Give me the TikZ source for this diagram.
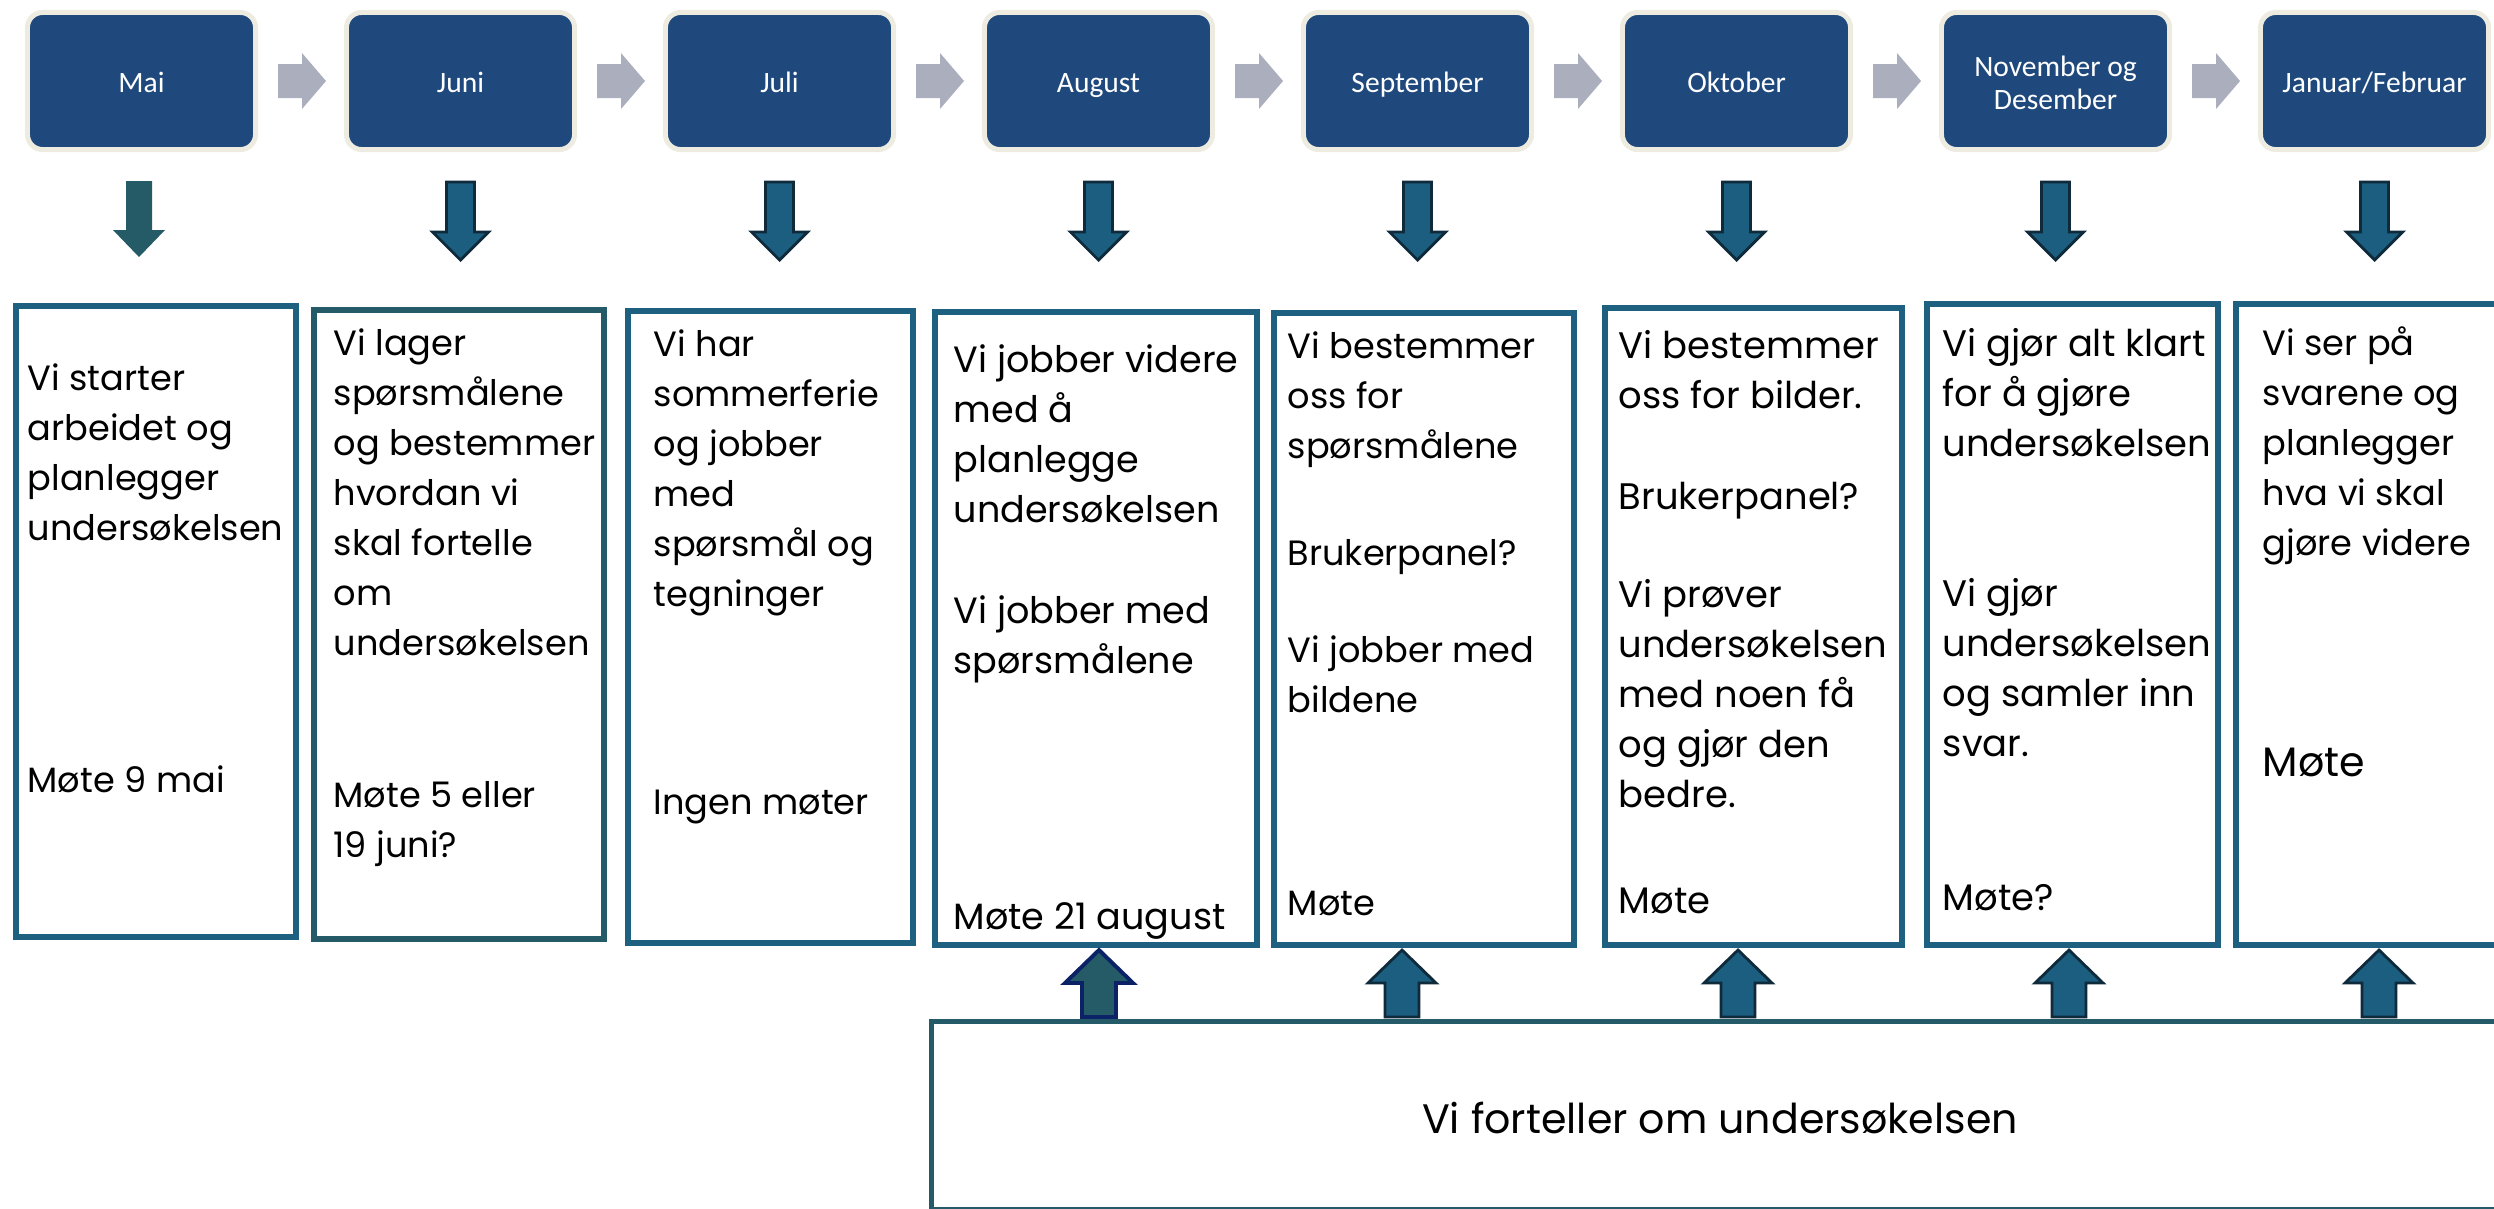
\documentclass[tikz,border=0pt]{standalone}
\usepackage{fontspec}
\setmainfont{Poppins}
\newfontfamily\monthfont{Carlito}
\definecolor{monthblue}{HTML}{1F497D}
\definecolor{monthrim}{HTML}{EEECE1}
\definecolor{stepgray}{HTML}{ABAFBD}
\definecolor{deepteal}{HTML}{245B67}
\definecolor{petrol}{HTML}{1B5E80}
\definecolor{petroledge}{HTML}{0E2A3B}
\definecolor{navyedge}{HTML}{0B2266}
\definecolor{framecol}{HTML}{1E6080}
\definecolor{framedark}{HTML}{255A68}

% fixed line heights for the month labels
\newcommand\mstrut{\rule[-2.4pt]{0pt}{11.4pt}}
\newcommand\mtop{\rule{0pt}{9pt}}
\newcommand\mbot{\rule[-2.4pt]{0pt}{2.4pt}}

% block arrows, x is the centre line
\newcommand\blockdown[2]{%
  \path[#2] (#1-14,182) -- (#1+14,182) -- (#1+14,232) -- (#1+28,232) -- (#1,260)
    -- (#1-28,232) -- (#1-14,232) -- cycle;}
\newcommand\blockup[2]{%
  \path[#2] (#1-17,1017) -- (#1-17,983) -- (#1-34,983) -- (#1,950) -- (#1+34,983)
    -- (#1+17,983) -- (#1+17,1017) -- cycle;}
\newcommand\blockright[1]{%
  \path[fill=stepgray] (#1-24,64) -- (#1,64) -- (#1,53) -- (#1+24,81) -- (#1,109)
    -- (#1,98) -- (#1-24,98) -- cycle;}

\begin{document}
\begin{tikzpicture}[x=0.01cm,y=-0.01cm,
  month/.style={draw=monthrim, line width=1.42pt, fill=monthblue,
    rounded corners=4.3pt, minimum width=2.28cm, minimum height=1.37cm,
    inner sep=0pt, text=white, align=center,
    font=\monthfont\fontsize{8.4}{9.4}\selectfont},
  framebox/.style={draw=framecol, line width=1.71pt, inner sep=0pt},
  txt/.style={anchor=north west, inner sep=0pt, align=left,
    font=\fontsize{10.0}{14.2}\selectfont},
  txtm/.style={txt, font=\fontsize{10.4}{14.2}\selectfont},
  txtl/.style={txt, font=\fontsize{10.5}{14.2}\selectfont},
  bigtxt/.style={inner sep=0pt, font=\fontsize{11.7}{14.2}\selectfont},
  petrolarrow/.style={fill=petrol, draw=petroledge, line width=0.8pt},
]
\useasboundingbox (0,0) rectangle (2494,1208);

% month headers
\foreach \i/\lab in {0/\mstrut Mai,1/\mstrut Juni,2/\mstrut Juli,3/\mstrut August,
    4/\mstrut September,5/\mstrut Oktober,
    6/{\mtop November og\\\mbot Desember},7/\mstrut Januar\slash Februar}{
  \node[month] (m\i) at (141.5+319*\i,81) {\lab};
}
\foreach \i in {0,...,6}{\blockright{302+319*\i}}

% arrows from the months down to the boxes
\path[fill=deepteal] (126,181) -- (152,181) -- (152,230) -- (165,230) -- (139,257)
  -- (113,230) -- (126,230) -- cycle;
\foreach \i in {1,...,7}{\blockdown{141.5+319*\i}{petrolarrow}}

% activity boxes
\node[framebox, minimum width=2.80cm, minimum height=6.31cm] (b1) at (156,621.5) {};
\node[framebox, draw=framedark, minimum width=2.90cm, minimum height=6.29cm] (b2) at (459,624.5) {};
\node[framebox, minimum width=2.85cm, minimum height=6.32cm] (b3) at (770.5,627) {};
\node[framebox, minimum width=3.22cm, minimum height=6.33cm] (b4) at (1096,628.5) {};
\node[framebox, minimum width=3.00cm, minimum height=6.32cm] (b5) at (1424,629) {};
\node[framebox, minimum width=2.97cm, minimum height=6.37cm] (b6) at (1753.5,626.5) {};
\node[framebox, minimum width=2.91cm, minimum height=6.41cm] (b7) at (2072.5,624.5) {};
\node[framebox, minimum width=2.86cm, minimum height=6.41cm] (b8) at (2379,624.5) {};

% box texts
\node[txt] (t1a) at (27,355) {\strut Vi starter\\arbeidet og\\planlegger\\undersøkelsen};
\node[txt] (t1b) at (27,757) {\strut Møte 9 mai};

\node[txt] (t2a) at (333,320) {\strut Vi lager\\spørsmålene\\og bestemmer\\hvordan vi\\skal fortelle\\om\\undersøkelsen};
\node[txt] (t2b) at (333,772) {\strut Møte 5 eller\\19 juni?};

\node[txt] (t3a) at (653,321) {\strut Vi har\\sommerferie\\og jobber\\med\\spørsmål og\\tegninger};
\node[txt] (t3b) at (653,779) {\strut Ingen møter};

\node[txtm] (t4a) at (953,337) {\strut Vi jobber videre\\med å\\planlegge\\undersøkelsen};
\node[txtm] (t4b) at (953,588) {\strut Vi jobber med\\spørsmålene};
\node[txtm] (t4c) at (953,894) {\strut Møte 21 august};

\node[txt] (t5a) at (1287,323) {\strut Vi bestemmer\\oss for\\spørsmålene};
\node[txt] (t5b) at (1287,530) {\strut Brukerpanel?};
\node[txt] (t5c) at (1287,627) {\strut Vi jobber med\\bildene};
\node[txt] (t5d) at (1287,880) {\strut Møte};

\node[txtl] (t6a) at (1618,323) {\strut Vi bestemmer\\oss for bilder.};
\node[txtl] (t6b) at (1618,474) {\strut Brukerpanel?};
\node[txtl] (t6c) at (1618,572) {\strut Vi prøver\\undersøkelsen\\med noen få\\og gjør den\\bedre.};
\node[txtl] (t6d) at (1618,878) {\strut Møte};

\node[txtl] (t7a) at (1942,321) {\strut Vi gjør alt klart\\for å gjøre\\undersøkelsen};
\node[txtl] (t7b) at (1942,571) {\strut Vi gjør\\undersøkelsen\\og samler inn\\svar.};
\node[txtl] (t7c) at (1942,875) {\strut Møte?};

\node[txt] (t8a) at (2262,320) {\strut Vi ser på\\svarene og\\planlegger\\hva vi skal\\gjøre videre};
\node[bigtxt, anchor=base west] (t8b) at (2262,776) {Møte};

% communication strip and its arrows
\node[draw=framedark, line width=1.42pt, inner sep=0pt,
  minimum width=15.985cm, minimum height=1.875cm] (tell) at (1730.75,1115.25) {};
\node[bigtxt, anchor=base] (tellText) at (1720,1133) {Vi forteller om undersøkelsen};

\blockup{1099}{fill=deepteal, draw=navyedge, line width=1.1pt}
\foreach \x in {1402,1738,2069,2379}{\blockup{\x}{petrolarrow}}
\end{tikzpicture}
\end{document}
